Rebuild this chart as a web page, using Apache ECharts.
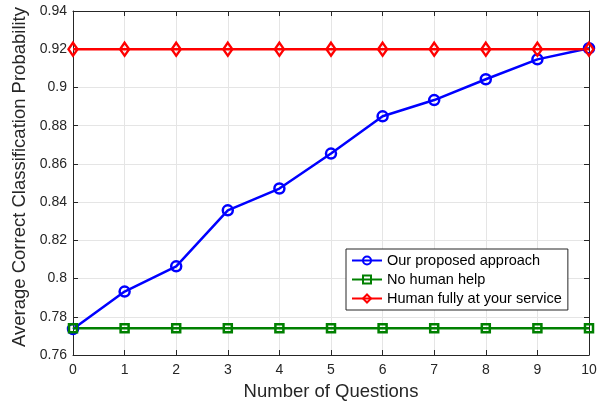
<!DOCTYPE html>
<html>
<head>
<meta charset="utf-8">
<script src="https://cdn.jsdelivr.net/npm/echarts@6/dist/echarts.min.js"></script>
<style>
  html, body { margin: 0; padding: 0; background: #fff; }
  #chart { width: 608px; height: 405px; }
</style>
</head>
<body>
<div id="chart"></div>
<script>
// Number of questions asked (x axis)
const questions = [0, 1, 2, 3, 4, 5, 6, 7, 8, 9, 10];
// Average correct classification probability per approach
const proposed = [0.7736, 0.7932, 0.8064, 0.8357, 0.8471, 0.8654, 0.8849, 0.8934, 0.9043, 0.9147, 0.9205];
const noHuman = [0.774, 0.774, 0.774, 0.774, 0.774, 0.774, 0.774, 0.774, 0.774, 0.774, 0.774];
const fullHuman = [0.92, 0.92, 0.92, 0.92, 0.92, 0.92, 0.92, 0.92, 0.92, 0.92, 0.92];
const seriesNames = ['Our proposed approach', 'No human help', 'Human fully at your service'];
const xTitle = 'Number of Questions';
const yTitle = 'Average Correct Classification Probability';

const FONT = '"Liberation Sans", Arial, Helvetica, sans-serif';
const AXIS_COLOR = '#262626';
const GRID_COLOR = '#e5e5e5';
const LINE_W = 2.5;

const pairs = (ys) => questions.map((q, i) => [q, ys[i]]);
const fmtY = (v) => String(parseFloat(v.toFixed(2)));

const chart = echarts.init(document.getElementById('chart'), null, { renderer: 'canvas' });

const baseAxis = {
  axisLine: { show: true, onZero: false, lineStyle: { color: AXIS_COLOR, width: 1 } },
  axisTick: { show: true, inside: true, length: 5, lineStyle: { color: AXIS_COLOR } },
};

chart.setOption({
  animation: false,
  backgroundColor: '#fff',
  textStyle: { fontFamily: FONT },
  grid: { left: 73, right: 19, top: 11, bottom: 50, containLabel: false, outerBoundsMode: 'none' },
  legend: {
    orient: 'vertical',
    left: 346,
    top: 249,
    data: seriesNames,
    itemWidth: 30,
    itemHeight: 10,
    itemGap: 4,
    padding: [4, 6, 4, 5],
    backgroundColor: '#fff',
    borderColor: AXIS_COLOR,
    borderWidth: 1,
    borderRadius: 0,
    textStyle: { fontFamily: FONT, fontSize: 14.5, color: '#000' },
  },
  graphic: [{
    type: 'text',
    x: 20,
    y: 177,
    rotation: Math.PI / 2,
    style: {
      text: yTitle,
      fontFamily: FONT,
      fontSize: 18.5,
      fill: AXIS_COLOR,
      align: 'center',
      verticalAlign: 'middle',
    },
  }],
  xAxis: [
    Object.assign({}, baseAxis, {
      type: 'value', min: 0, max: 10, interval: 1, position: 'bottom',
      name: xTitle, nameLocation: 'middle', nameGap: 27,
      nameTextStyle: { fontFamily: FONT, fontSize: 18.5, color: AXIS_COLOR },
      axisLabel: { fontFamily: FONT, fontSize: 14, color: AXIS_COLOR, margin: 8 },
      splitLine: { show: true, lineStyle: { color: GRID_COLOR, width: 1 } },
    }),
    Object.assign({}, baseAxis, {
      type: 'value', min: 0, max: 10, interval: 1, position: 'top',
      axisLabel: { show: false }, splitLine: { show: false },
    }),
  ],
  yAxis: [
    Object.assign({}, baseAxis, {
      type: 'value', min: 0.76, max: 0.94, interval: 0.02, position: 'left',
      axisLabel: { fontFamily: FONT, fontSize: 14, color: AXIS_COLOR, margin: 6, formatter: fmtY },
      splitLine: { show: true, lineStyle: { color: GRID_COLOR, width: 1 } },
    }),
    Object.assign({}, baseAxis, {
      type: 'value', min: 0.76, max: 0.94, interval: 0.02, position: 'right',
      axisLabel: { show: false }, splitLine: { show: false },
    }),
  ],
  series: [
    {
      name: seriesNames[0], type: 'line', data: pairs(proposed),
      symbol: 'circle', symbolSize: 10,
      lineStyle: { color: '#0000ff', width: LINE_W },
      itemStyle: { color: 'rgba(0,0,0,0)', borderColor: '#0000ff', borderWidth: LINE_W },
    },
    {
      name: seriesNames[1], type: 'line', data: pairs(noHuman),
      symbol: 'rect', symbolSize: 8,
      lineStyle: { color: '#008000', width: LINE_W },
      itemStyle: { color: 'rgba(0,0,0,0)', borderColor: '#008000', borderWidth: LINE_W },
    },
    {
      name: seriesNames[2], type: 'line', data: pairs(fullHuman),
      symbol: 'diamond', symbolSize: [9, 13],
      lineStyle: { color: '#ff0000', width: LINE_W },
      itemStyle: { color: 'rgba(0,0,0,0)', borderColor: '#ff0000', borderWidth: LINE_W },
    },
  ],
});
</script>
</body>
</html>
